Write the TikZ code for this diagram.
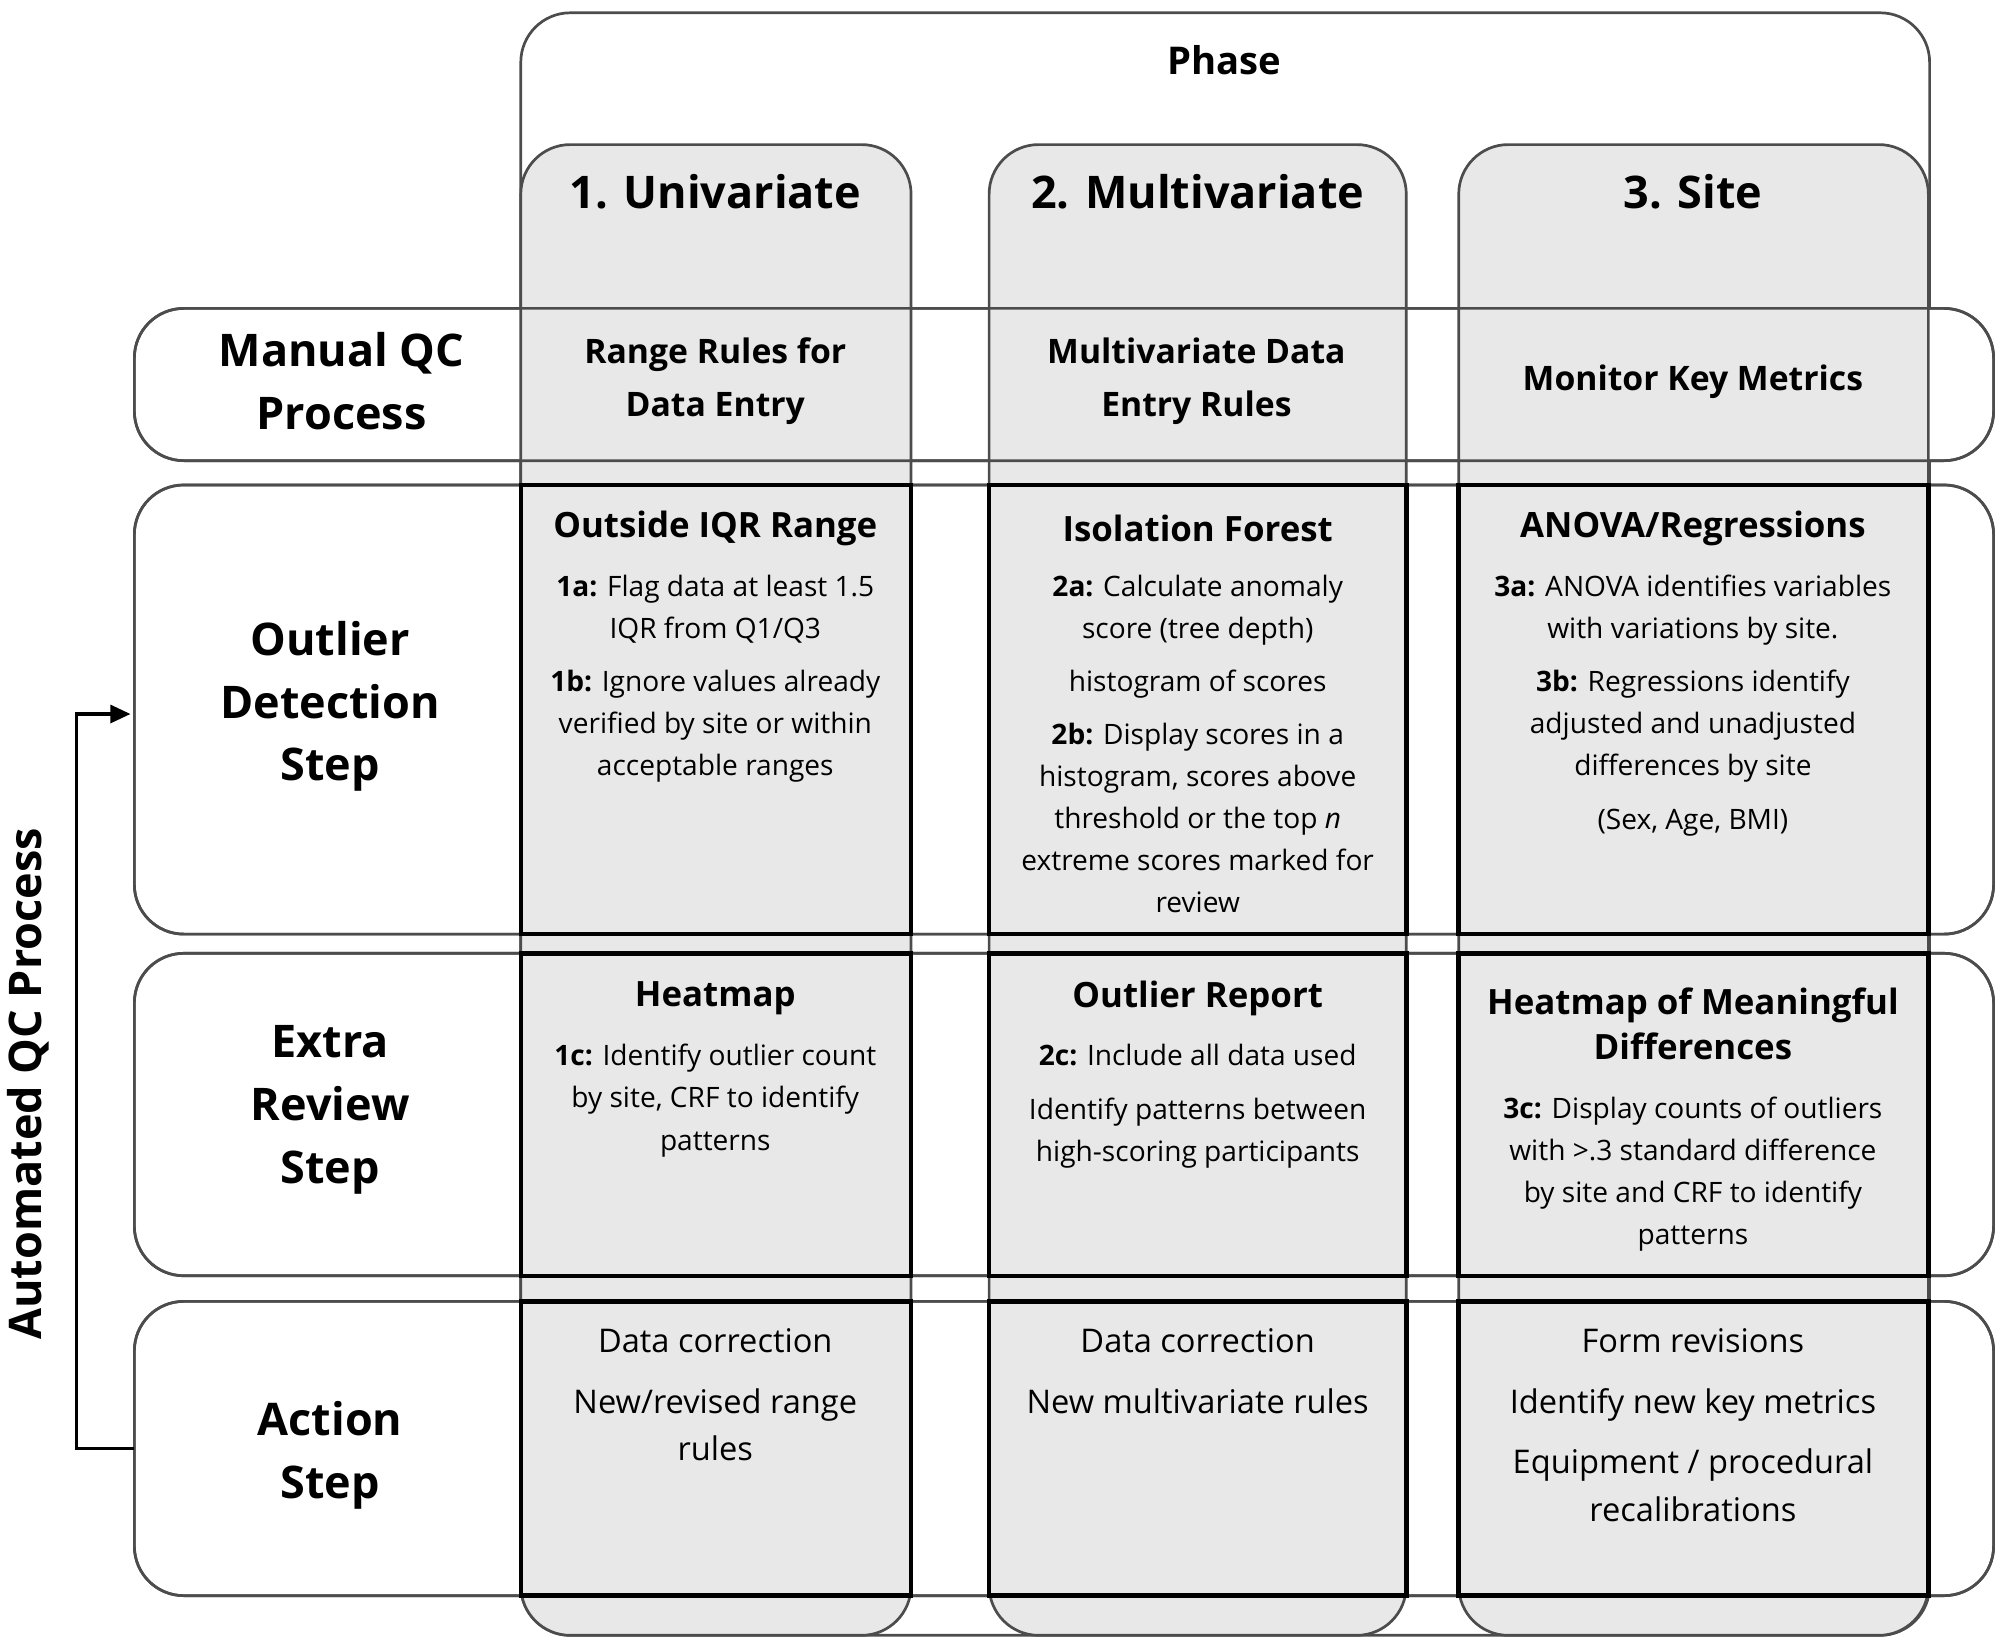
\documentclass[tikz,border=0pt]{standalone}
\usepackage{fontspec}
\setmainfont{Open Sans}
\usetikzlibrary{arrows.meta}
\begin{document}
\begin{tikzpicture}[x=0.02cm,y=-0.02cm,
 rowbox/.style={draw=black!70,line width=1.2pt,rounded corners=22pt},
 colbox/.style={draw=black!70,line width=1.2pt,rounded corners=22pt,fill=black!9},
 cell/.style={draw=black,line width=2pt,fill=black!9},
 hd/.style={font=\fontsize{20}{25}\selectfont\bfseries},
 rl/.style={font=\fontsize{20}{28}\selectfont\bfseries,align=center},
 tt/.style={font=\fontsize{15.5}{20}\selectfont\bfseries,align=center},
 bd/.style={font=\fontsize{12.5}{18.7}\selectfont,align=center},
 mb/.style={font=\fontsize{15}{23.5}\selectfont\bfseries,align=center},
 ab/.style={font=\fontsize{14.5}{21}\selectfont,align=center}]
\useasboundingbox (0,0) rectangle (1563,1282);
\draw[rowbox] (407,10) rectangle (1508,1278);
\node[font=\fontsize{17}{20}\selectfont\bfseries] (phase) at (957,47) {Phase};
\foreach \a/\b in {241/360,379/730,745/997,1017/1247}
 \draw[rowbox,fill=white] (105,\a) rectangle (1558,\b);
\draw[colbox] (407,113) rectangle (712,1278);
\draw[colbox] (773,113) rectangle (1099,1278);
\draw[colbox] (1140,113) rectangle (1507,1278);
\foreach \a/\b in {241/360,379/730,745/997,1017/1247}
 \draw[rowbox] (105,\a) rectangle (1558,\b);
\foreach \x/\X in {407/712,773/1099,1140/1507}
 \foreach \a/\b in {379/730,745/997,1017/1247}
  \draw[cell] (\x,\a) rectangle (\X,\b);
\node[hd] (c1) at (559,150) {1. Univariate};
\node[hd] (c2) at (936,150) {2. Multivariate};
\node[hd] (c3) at (1323,150) {3. Site};
\node[rl] (r1) at (267,298) {Manual QC\\Process};
\node[rl] (r2) at (258,552) {Outlier\\Detection\\Step};
\node[rl] (r3) at (258,867) {Extra\\Review\\Step};
\node[rl] (r4) at (258,1137) {Action\\Step};
\node[mb] (m1) at (559,298) {Range Rules for\\Data Entry};
\node[mb] (m2) at (935,298) {Multivariate Data\\Entry Rules};
\node[mb] (m3) at (1323,298) {Monitor Key Metrics};
\node[tt] (t1) at (559,413) {Outside IQR Range};
\node[bd,anchor=north] (o1) at (559,443) {\textbf{1a:} Flag data at least 1.5\\IQR from Q1/Q3\\[5pt]\textbf{1b:} Ignore values already\\verified by site or within\\acceptable ranges};
\node[tt] (t2) at (936,413) {Isolation Forest};
\node[bd,anchor=north] (o2) at (936,443) {\textbf{2a:} Calculate anomaly\\score (tree depth)\\[5pt]histogram of scores\\[5pt]\textbf{2b:} Display scores in a\\histogram, scores above\\threshold or the top \textit{n}\\extreme scores marked for\\review};
\node[tt] (t3) at (1323,413) {ANOVA/Regressions};
\node[bd,anchor=north] (o3) at (1323,443) {\textbf{3a:} ANOVA identifies variables\\with variations by site.\\[5pt]\textbf{3b:} Regressions identify\\adjusted and unadjusted\\differences by site\\[5pt](Sex, Age, BMI)};
\node[tt] (h1) at (559,780) {Heatmap};
\node[bd,anchor=north] (e1) at (559,810) {\textbf{1c:} Identify outlier count\\by site, CRF to identify\\patterns};
\node[tt] (h2) at (936,780) {Outlier Report};
\node[bd,anchor=north] (e2) at (936,810) {\textbf{2c:} Include all data used\\[5pt]Identify patterns between\\high-scoring participants};
\node[tt] (h3) at (1323,800) {Heatmap of Meaningful\\Differences};
\node[bd,anchor=north] (e3) at (1323,851) {\textbf{3c:} Display counts of outliers\\with >.3 standard difference\\by site and CRF to identify\\patterns};
\node[ab,anchor=north] (a1) at (559,1032) {Data correction\\[6pt]New/revised range\\rules};
\node[ab,anchor=north] (a2) at (936,1032) {Data correction\\[6pt]New multivariate rules};
\node[ab,anchor=north] (a3) at (1323,1032) {Form revisions\\[6pt]Identify new key metrics\\[6pt]Equipment / procedural\\recalibrations};
\coordinate (s) at (105,1132);
\coordinate (e) at (102,558);
\draw[line width=1.5pt,-{Triangle[length=9pt,width=8pt]}] (s) -- (60,1132) -- (60,558) -- (e);
\node[rotate=90,font=\fontsize{20}{24}\selectfont\bfseries] (auto) at (22,847) {Automated QC Process};
\end{tikzpicture}
\end{document}
